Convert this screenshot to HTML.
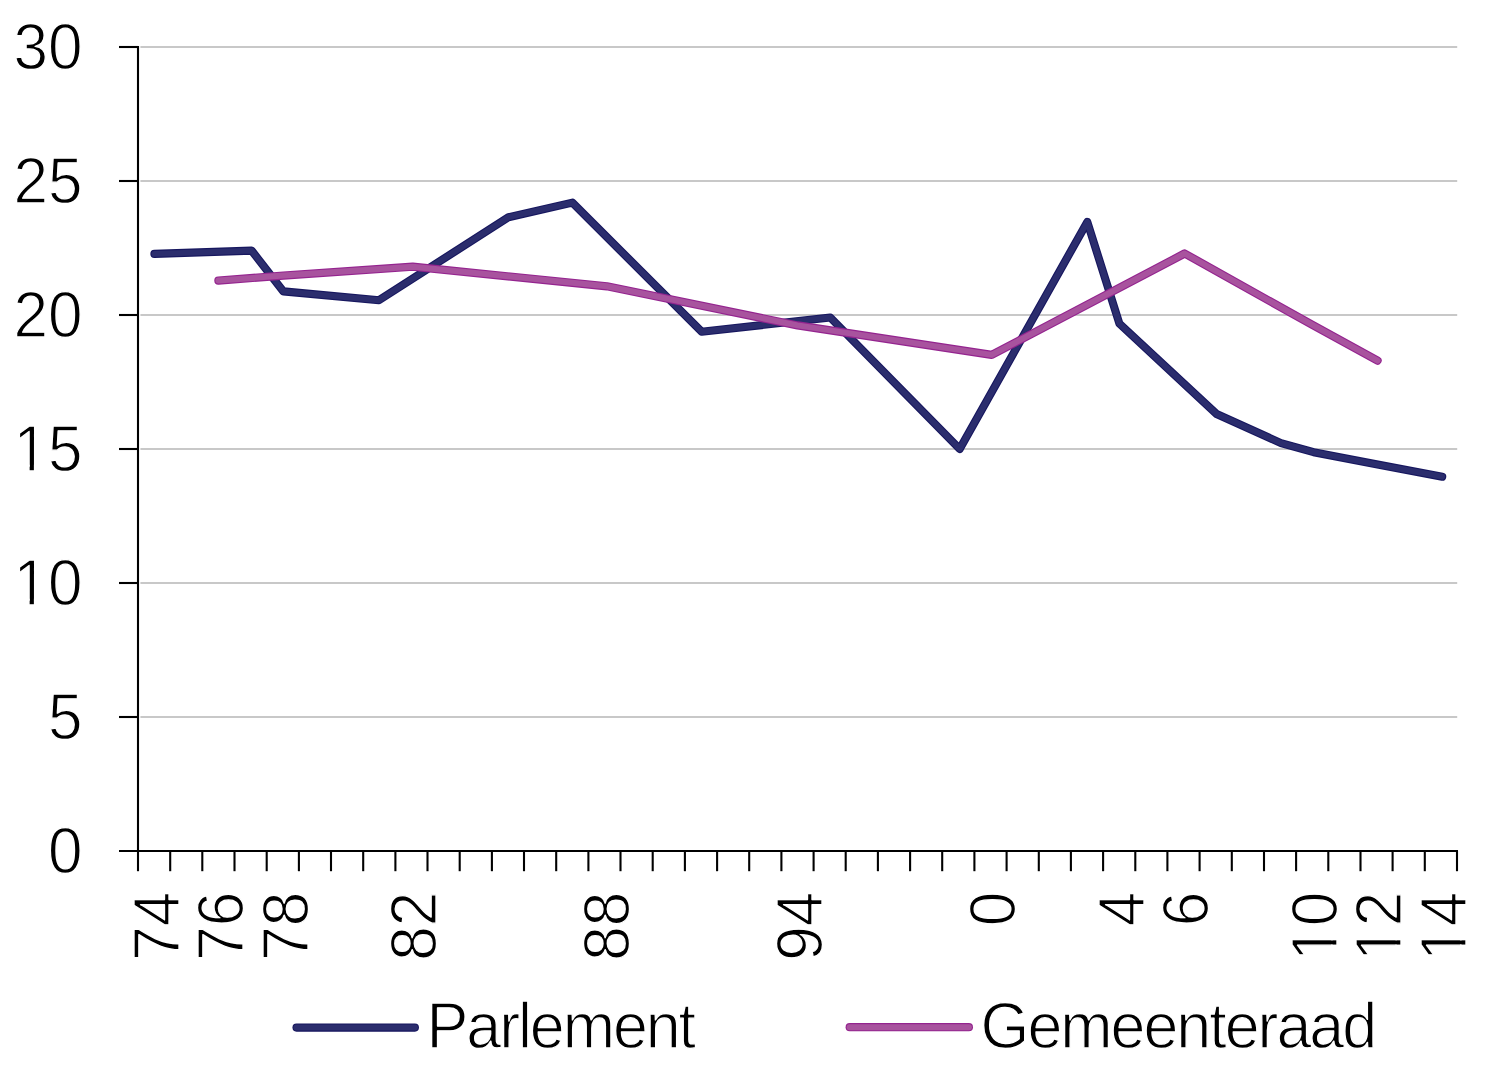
<!DOCTYPE html>
<html lang="nl"><head><meta charset="utf-8"><title>Parlement en Gemeenteraad</title>
<style>
html,body{margin:0;padding:0;background:#fff;}
body{width:1507px;height:1077px;overflow:hidden;}
svg{display:block;}
text{font-family:"Liberation Sans",sans-serif;font-size:65.4px;fill:#000;stroke:#fff;stroke-width:1.30px;stroke-linejoin:round;}
</style></head><body>
<svg width="1507" height="1077" viewBox="0 0 1507 1077">
<rect width="1507" height="1077" fill="#fff"/>

<g stroke="#c8c8c8" stroke-width="2">
<line x1="140.4" y1="717.0" x2="1457.2" y2="717.0"/>
<line x1="140.4" y1="583.0" x2="1457.2" y2="583.0"/>
<line x1="140.4" y1="449.0" x2="1457.2" y2="449.0"/>
<line x1="140.4" y1="315.0" x2="1457.2" y2="315.0"/>
<line x1="140.4" y1="181.0" x2="1457.2" y2="181.0"/>
<line x1="140.4" y1="47.0" x2="1457.2" y2="47.0"/>
</g>
<g stroke="#000" stroke-width="2.1" fill="none">
<line x1="138.0" y1="46.0" x2="138.0" y2="851.0"/>
<line x1="119" y1="851.0" x2="1458.0" y2="851.0"/>
<line x1="119" y1="717.0" x2="138.0" y2="717.0"/>
<line x1="119" y1="583.0" x2="138.0" y2="583.0"/>
<line x1="119" y1="449.0" x2="138.0" y2="449.0"/>
<line x1="119" y1="315.0" x2="138.0" y2="315.0"/>
<line x1="119" y1="181.0" x2="138.0" y2="181.0"/>
<line x1="119" y1="47.0" x2="138.0" y2="47.0"/>
<line x1="138.0" y1="851.0" x2="138.0" y2="871.2"/>
<line x1="170.2" y1="851.0" x2="170.2" y2="871.2"/>
<line x1="202.3" y1="851.0" x2="202.3" y2="871.2"/>
<line x1="234.5" y1="851.0" x2="234.5" y2="871.2"/>
<line x1="266.7" y1="851.0" x2="266.7" y2="871.2"/>
<line x1="298.9" y1="851.0" x2="298.9" y2="871.2"/>
<line x1="331.0" y1="851.0" x2="331.0" y2="871.2"/>
<line x1="363.2" y1="851.0" x2="363.2" y2="871.2"/>
<line x1="395.4" y1="851.0" x2="395.4" y2="871.2"/>
<line x1="427.5" y1="851.0" x2="427.5" y2="871.2"/>
<line x1="459.7" y1="851.0" x2="459.7" y2="871.2"/>
<line x1="491.9" y1="851.0" x2="491.9" y2="871.2"/>
<line x1="524.0" y1="851.0" x2="524.0" y2="871.2"/>
<line x1="556.2" y1="851.0" x2="556.2" y2="871.2"/>
<line x1="588.4" y1="851.0" x2="588.4" y2="871.2"/>
<line x1="620.5" y1="851.0" x2="620.5" y2="871.2"/>
<line x1="652.7" y1="851.0" x2="652.7" y2="871.2"/>
<line x1="684.9" y1="851.0" x2="684.9" y2="871.2"/>
<line x1="717.1" y1="851.0" x2="717.1" y2="871.2"/>
<line x1="749.2" y1="851.0" x2="749.2" y2="871.2"/>
<line x1="781.4" y1="851.0" x2="781.4" y2="871.2"/>
<line x1="813.6" y1="851.0" x2="813.6" y2="871.2"/>
<line x1="845.7" y1="851.0" x2="845.7" y2="871.2"/>
<line x1="877.9" y1="851.0" x2="877.9" y2="871.2"/>
<line x1="910.1" y1="851.0" x2="910.1" y2="871.2"/>
<line x1="942.2" y1="851.0" x2="942.2" y2="871.2"/>
<line x1="974.4" y1="851.0" x2="974.4" y2="871.2"/>
<line x1="1006.6" y1="851.0" x2="1006.6" y2="871.2"/>
<line x1="1038.8" y1="851.0" x2="1038.8" y2="871.2"/>
<line x1="1070.9" y1="851.0" x2="1070.9" y2="871.2"/>
<line x1="1103.1" y1="851.0" x2="1103.1" y2="871.2"/>
<line x1="1135.3" y1="851.0" x2="1135.3" y2="871.2"/>
<line x1="1167.4" y1="851.0" x2="1167.4" y2="871.2"/>
<line x1="1199.6" y1="851.0" x2="1199.6" y2="871.2"/>
<line x1="1231.8" y1="851.0" x2="1231.8" y2="871.2"/>
<line x1="1264.0" y1="851.0" x2="1264.0" y2="871.2"/>
<line x1="1296.1" y1="851.0" x2="1296.1" y2="871.2"/>
<line x1="1328.3" y1="851.0" x2="1328.3" y2="871.2"/>
<line x1="1360.5" y1="851.0" x2="1360.5" y2="871.2"/>
<line x1="1392.6" y1="851.0" x2="1392.6" y2="871.2"/>
<line x1="1424.8" y1="851.0" x2="1424.8" y2="871.2"/>
<line x1="1457.0" y1="851.0" x2="1457.0" y2="871.2"/>
</g>
<g fill="none" stroke-linecap="round" stroke-linejoin="round">
<polyline points="154.4,253.9 251.6,250.6 283.4,291.4 379.0,300.2 508.5,217.2 572.4,202.6 701.6,331.7 830.3,317.5 959.7,449.0 1087.3,221.9 1119.4,323.6 1216.6,414.0 1281.0,443.1 1313.6,452.2 1379.0,464.8 1442.2,476.7" stroke="#17175f" stroke-width="8.1"/>
<polyline points="154.4,253.9 251.6,250.6 283.4,291.4 379.0,300.2 508.5,217.2 572.4,202.6 701.6,331.7 830.3,317.5 959.7,449.0 1087.3,221.9 1119.4,323.6 1216.6,414.0 1281.0,443.1 1313.6,452.2 1379.0,464.8 1442.2,476.7" stroke="#2b2d6d" stroke-width="5.9"/>
<polyline points="218.4,280.6 283.4,275.6 412.7,266.7 606.9,286.3 797.6,325.4 991.7,354.9 1184.6,253.5 1311.5,324.4 1377.6,360.6" stroke="#94248f" stroke-width="8.2"/>
<polyline points="218.4,280.6 283.4,275.6 412.7,266.7 606.9,286.3 797.6,325.4 991.7,354.9 1184.6,253.5 1311.5,324.4 1377.6,360.6" stroke="#a8539e" stroke-width="6.0"/>
</g>
<g transform="translate(82.5,872.5) scale(0.95,1)"><text text-anchor="end">0</text></g>
<g transform="translate(82.5,738.5) scale(0.95,1)"><text text-anchor="end">5</text></g>
<g transform="translate(82.5,604.5) scale(0.95,1)"><text text-anchor="end">10</text><rect x="-68.91" y="-5.75" width="13.28" height="6.87" fill="#fff"/><rect x="-51.19" y="-5.75" width="12.77" height="6.87" fill="#fff"/></g>
<g transform="translate(82.5,470.5) scale(0.95,1)"><text text-anchor="end">15</text><rect x="-68.91" y="-5.75" width="13.28" height="6.87" fill="#fff"/><rect x="-51.19" y="-5.75" width="12.77" height="6.87" fill="#fff"/></g>
<g transform="translate(82.5,336.5) scale(0.95,1)"><text text-anchor="end">20</text></g>
<g transform="translate(82.5,202.5) scale(0.95,1)"><text text-anchor="end">25</text></g>
<g transform="translate(82.5,68.5) scale(0.95,1)"><text text-anchor="end">30</text></g>
<g transform="translate(178.9,891.7) rotate(-90) scale(0.95,1)"><text text-anchor="end">74</text></g>
<g transform="translate(243.2,891.7) rotate(-90) scale(0.95,1)"><text text-anchor="end">76</text></g>
<g transform="translate(307.6,891.7) rotate(-90) scale(0.95,1)"><text text-anchor="end">78</text></g>
<g transform="translate(436.2,891.7) rotate(-90) scale(0.95,1)"><text text-anchor="end">82</text></g>
<g transform="translate(629.3,891.7) rotate(-90) scale(0.95,1)"><text text-anchor="end">88</text></g>
<g transform="translate(822.3,891.7) rotate(-90) scale(0.95,1)"><text text-anchor="end">94</text></g>
<g transform="translate(1015.3,891.7) rotate(-90) scale(0.95,1)"><text text-anchor="end">0</text></g>
<g transform="translate(1144.0,891.7) rotate(-90) scale(0.95,1)"><text text-anchor="end">4</text></g>
<g transform="translate(1208.3,891.7) rotate(-90) scale(0.95,1)"><text text-anchor="end">6</text></g>
<g transform="translate(1337.0,891.7) rotate(-90) scale(0.95,1)"><text text-anchor="end">10</text><rect x="-68.91" y="-5.75" width="13.28" height="6.87" fill="#fff"/><rect x="-51.19" y="-5.75" width="12.77" height="6.87" fill="#fff"/></g>
<g transform="translate(1401.3,891.7) rotate(-90) scale(0.95,1)"><text text-anchor="end">12</text><rect x="-68.91" y="-5.75" width="13.28" height="6.87" fill="#fff"/><rect x="-51.19" y="-5.75" width="12.77" height="6.87" fill="#fff"/></g>
<g transform="translate(1465.7,891.7) rotate(-90) scale(0.95,1)"><text text-anchor="end">14</text><rect x="-68.91" y="-5.75" width="13.28" height="6.87" fill="#fff"/><rect x="-51.19" y="-5.75" width="12.77" height="6.87" fill="#fff"/></g>
<g stroke-linecap="round">
<line x1="296.5" y1="1027.6" x2="414.9" y2="1027.6" stroke="#17175f" stroke-width="8.1"/>
<line x1="296.5" y1="1027.6" x2="414.9" y2="1027.6" stroke="#2b2d6d" stroke-width="6"/>
<line x1="849.7" y1="1027.2" x2="968.9" y2="1027.2" stroke="#94248f" stroke-width="8.2"/>
<line x1="849.7" y1="1027.2" x2="968.9" y2="1027.2" stroke="#a8539e" stroke-width="6"/>
</g>
<text transform="translate(426.6,1047.6) scale(0.96,1)" textLength="280.6" lengthAdjust="spacing">Parlement</text>
<text transform="translate(980.6,1047.6) scale(0.96,1)" textLength="413.1" lengthAdjust="spacing">Gemeenteraad</text>
</svg></body></html>
